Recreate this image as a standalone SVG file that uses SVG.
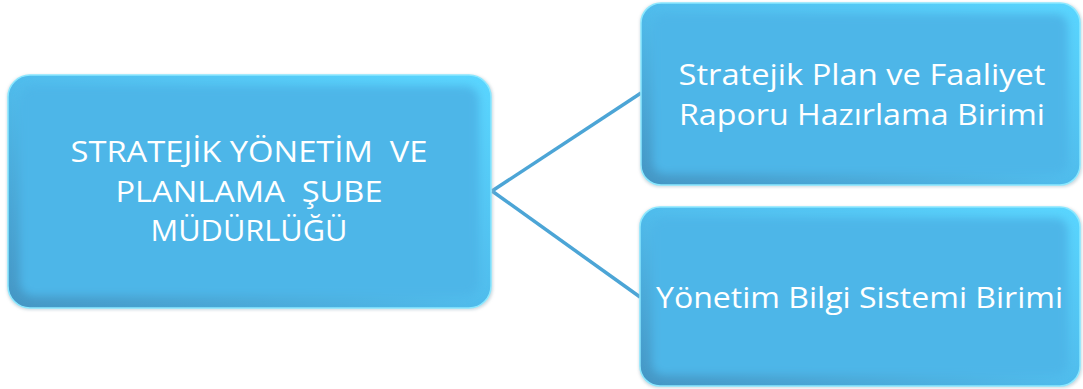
<svg xmlns="http://www.w3.org/2000/svg" width="1083" height="389" viewBox="0 0 1083 389">
  <defs>
    <linearGradient id="edge" x1="1" y1="0" x2="0" y2="1">
      <stop offset="0" stop-color="#5AD6FF"/>
      <stop offset="0.5" stop-color="#50BCEC"/>
      <stop offset="1" stop-color="#4596C4"/>
    </linearGradient>
    <filter id="soft" x="-10%" y="-10%" width="120%" height="120%">
      <feGaussianBlur stdDeviation="4"/>
    </filter>
    <filter id="shadow" x="-5%" y="-5%" width="110%" height="110%">
      <feGaussianBlur stdDeviation="1.5"/>
    </filter>
  </defs>
  <style>
    .shadow { fill: #9fb6c2; opacity: 0.5; }
    .outer { fill: url(#edge); stroke: #8BE8FF; stroke-width: 1.5; }
    .inner { fill: #4DB6E8; }
    .label { font-family: "Open Sans", "Noto Sans", sans-serif; font-size: 30px; fill: #FFFFFF; text-anchor: middle; white-space: pre; }
    .conn { stroke: #4CA5D6; stroke-width: 3.5; fill: none; }
  </style>
  <rect width="1083" height="389" fill="#FFFFFF"/>
  <g id="connectors">
    <line class="conn" x1="492" y1="191" x2="641" y2="93"/>
    <line class="conn" x1="492" y1="191" x2="640" y2="297"/>
  </g>
  <g id="node-main">
    <rect class="shadow" x="7" y="75" width="486" height="235" rx="22" filter="url(#shadow)"/>
    <rect class="outer" x="8" y="75" width="483" height="233" rx="22"/>
    <rect class="inner" x="20" y="86" width="459" height="210" rx="14" filter="url(#soft)"/>
    <text class="label" x="249" y="162" textLength="357" lengthAdjust="spacingAndGlyphs" xml:space="preserve">STRATEJİK YÖNETİM  VE</text>
    <text class="label" x="249" y="202" textLength="267" lengthAdjust="spacingAndGlyphs" xml:space="preserve">PLANLAMA  ŞUBE</text>
    <text class="label" x="249" y="241" textLength="197" lengthAdjust="spacingAndGlyphs">MÜDÜRLÜĞÜ</text>
  </g>
  <g id="node-plan">
    <rect class="shadow" x="640" y="3" width="442" height="184" rx="20" filter="url(#shadow)"/>
    <rect class="outer" x="641" y="3" width="439" height="182" rx="20"/>
    <rect class="inner" x="653" y="14" width="415" height="160" rx="12" filter="url(#soft)"/>
    <text class="label" x="862" y="85" textLength="367" lengthAdjust="spacingAndGlyphs">Stratejik Plan ve Faaliyet</text>
    <text class="label" x="862" y="125" textLength="366" lengthAdjust="spacingAndGlyphs">Raporu Hazırlama Birimi</text>
  </g>
  <g id="node-ybs">
    <rect class="shadow" x="639" y="207" width="443" height="181" rx="20" filter="url(#shadow)"/>
    <rect class="outer" x="640" y="207" width="440" height="179" rx="20"/>
    <rect class="inner" x="652" y="218" width="416" height="157" rx="12" filter="url(#soft)"/>
    <text class="label" x="859.5" y="308" textLength="407" lengthAdjust="spacingAndGlyphs">Yönetim Bilgi Sistemi Birimi</text>
  </g>
</svg>
